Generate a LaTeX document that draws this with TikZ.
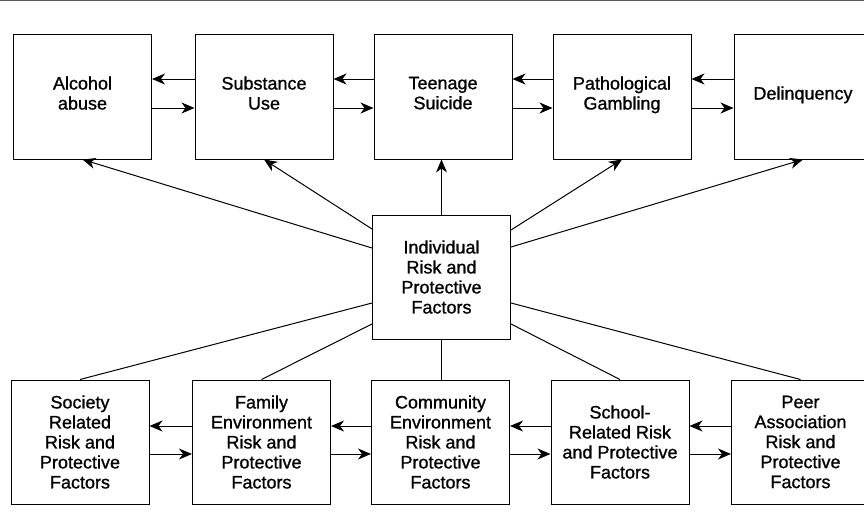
\documentclass[tikz,border=0pt]{standalone}
\usepackage{fontspec}
\setmainfont{Liberation Sans}[FakeBold=1]
\usetikzlibrary{arrows.meta}
\definecolor{RuleClr}{rgb}{0.35,0.35,0.35}
\definecolor{BoxClr}{rgb}{0,0,0}

\begin{document}
\begin{tikzpicture}[x=1pt,y=-1pt,
  factor/.style={draw=BoxClr,line width=1pt,minimum width=138pt,minimum height=124pt,
    inner sep=0pt,align=center,font=\fontsize{18}{20}\selectfont},
  outcome/.style={factor,text depth=8pt},
  fwd/.style={-{Stealth[length=13pt,width=11pt,inset=4pt]},line width=1pt},
  link/.style={line width=1pt}]
\path[use as bounding box,clip] (0,0) rectangle (864,519);

\draw[RuleClr,line width=1.5pt] (0,0.75) -- (864,0.75);

% outcomes
\node[outcome] (Alc)  at (82.5,97) {Alcohol\\abuse};
\node[outcome] (Sub)  at (264,97)  {Substance\\Use};
\node[outcome] (Teen) at (443,97)  {Teenage\\Suicide};
\node[outcome] (Gamb) at (622,97)  {Pathological\\Gambling};
\node[outcome] (Delq) at (803,97)  {Delinquency};

% individual factors
\node[factor] (Ind) at (441.5,277) {Individual\\Risk and\\Protective\\Factors};

% domains
\node[factor] (Soc)  at (80,442)    {Society\\Related\\Risk and\\Protective\\Factors};
\node[factor] (Fam)  at (261.5,442) {Family\\Environment\\Risk and\\Protective\\Factors};
\node[factor] (Com)  at (440.5,442) {Community\\Environment\\Risk and\\Protective\\Factors};
\node[factor] (Sch)  at (620,442)   {School-\\Related Risk\\and Protective\\Factors};
\node[factor] (Peer) at (800.5,442) {Peer\\Association\\Risk and\\Protective\\Factors};

% top row
\draw[fwd] ([yshift=18pt]Sub.west) -- ([yshift=18pt]Alc.east);
\draw[fwd] ([yshift=-11pt]Alc.east) -- ([yshift=-11pt]Sub.west);
\draw[fwd] ([yshift=18pt]Teen.west) -- ([yshift=18pt]Sub.east);
\draw[fwd] ([yshift=-11pt]Sub.east) -- ([yshift=-11pt]Teen.west);
\draw[fwd] ([yshift=18pt]Gamb.west) -- ([yshift=18pt]Teen.east);
\draw[fwd] ([yshift=-11pt]Teen.east) -- ([yshift=-11pt]Gamb.west);
\draw[fwd] ([yshift=18pt]Delq.west) -- ([yshift=18pt]Gamb.east);
\draw[fwd] ([yshift=-11pt]Gamb.east) -- ([yshift=-11pt]Delq.west);

% bottom row
\draw[fwd] ([yshift=16pt]Fam.west) -- ([yshift=16pt]Soc.east);
\draw[fwd] ([yshift=-12pt]Soc.east) -- ([yshift=-12pt]Fam.west);
\draw[fwd] ([yshift=16pt]Com.west) -- ([yshift=16pt]Fam.east);
\draw[fwd] ([yshift=-12pt]Fam.east) -- ([yshift=-12pt]Com.west);
\draw[fwd] ([yshift=16pt]Sch.west) -- ([yshift=16pt]Com.east);
\draw[fwd] ([yshift=-12pt]Com.east) -- ([yshift=-12pt]Sch.west);
\draw[fwd] ([yshift=16pt]Peer.west) -- ([yshift=16pt]Sch.east);
\draw[fwd] ([yshift=-12pt]Sch.east) -- ([yshift=-12pt]Peer.west);

% from the individual box
\draw[fwd] ([yshift=29pt]Ind.west) -- (Alc.south);
\draw[fwd] ([yshift=48pt]Ind.west) -- (Sub.south);
\draw[fwd] (Ind.north) -- (Ind.north |- Teen.south);
\draw[fwd] ([yshift=47pt]Ind.east) -- (Gamb.south);
\draw[fwd] ([yshift=30pt]Ind.east) -- (Delq.south);

\draw[link] ([yshift=-26pt]Ind.west) -- (Soc.north);
\draw[link] ([yshift=-47pt]Ind.west) -- (Fam.north);
\draw[link] (Ind.south) -- (Ind.south |- Com.north);
\draw[link] ([yshift=-47pt]Ind.east) -- (Sch.north);
\draw[link] ([yshift=-26pt]Ind.east) -- (Peer.north);

\end{tikzpicture}
\end{document}
